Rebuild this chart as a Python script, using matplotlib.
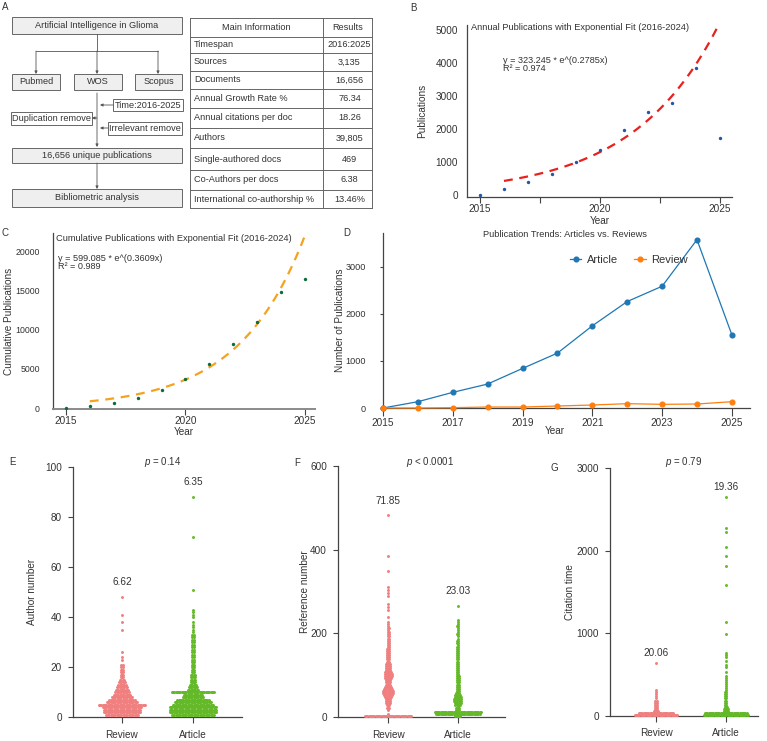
import numpy as np
import matplotlib
matplotlib.use('Agg')
import matplotlib.pyplot as plt
from matplotlib.patches import Rectangle
from matplotlib.lines import Line2D

plt.rcParams['font.family'] = ['Liberation Sans', 'DejaVu Sans']
plt.rcParams['mathtext.fontset'] = 'custom'
plt.rcParams['mathtext.it'] = 'Liberation Sans:italic'
plt.rcParams['mathtext.rm'] = 'Liberation Sans'

W, H = 767, 741
TXT = '#333333'
AXC = '#444444'

# ---------------- data ----------------
# panel A
flow_title = 'Artificial Intelligence in Glioma'
flow_sources = ['Pubmed', 'WOS', 'Scopus']
flow_filters = ['Time:2016-2025', 'Duplication remove', 'Irrelevant remove']
flow_result = '16,656 unique publications'
flow_final = 'Bibliometric analysis'
info_header = ['Main Information', 'Results']
info_labels = ['Timespan', 'Sources', 'Documents', 'Annual Growth Rate %',
               'Annual citations per doc', 'Authors', 'Single-authored docs',
               'Co-Authors per docs', 'International co-authorship %']
info_values = ['2016:2025', '3,135', '16,656', '76.34', '18.26', '39,805',
               '469', '6.38', '13.46%']

# panels B-D
years = [2015, 2016, 2017, 2018, 2019, 2020, 2021, 2022, 2023, 2024, 2025]
annual_pubs = [0, 182, 404, 646, 1000, 1364, 1980, 2525, 2800, 3860, 1737]
annual_fit = (323.245, 0.2785, 0.974)
cum_pubs = [0, 213, 680, 1280, 2300, 3700, 5660, 8170, 10980, 14850, 16550]
cum_fit = (599.085, 0.3609, 0.989)
article_counts = [0, 134, 333, 510, 842, 1168, 1748, 2265, 2590, 3581, 1557]
review_counts = [0, 0, 7, 21, 21, 42, 64, 92, 78, 85, 134]

# panel E: dots drawn per author number
author_review_vals = [1, 2, 3, 4, 5, 6, 7, 8, 9, 10, 11, 12, 13, 14, 15, 16, 17,
                      18, 19, 20, 21, 23, 24, 26, 35, 38, 41, 48]
author_review_dots = [28, 31, 31, 33, 39, 26, 22, 18, 15, 12, 11, 9, 7, 6, 4, 3, 3,
                      3, 3, 2, 2, 1, 1, 1, 1, 1, 1, 1]
author_article_vals = [1, 2, 3, 4, 5, 6, 7, 8, 9, 10, 11, 12, 13, 14, 15, 16, 17,
                       18, 19, 20, 21, 22, 23, 24, 25, 26, 27, 28, 29, 30, 31, 32,
                       33, 34, 35, 36, 37, 38, 40, 41, 42, 43, 51, 72, 88]
author_article_dots = [36, 39, 39, 39, 34, 31, 27, 18, 16, 36, 9, 8, 6, 5, 4, 4, 4,
                       3, 3, 3, 3, 3, 2, 2, 2, 2, 2, 2, 2, 2, 2, 2,
                       2, 1, 1, 1, 1, 1, 1, 1, 1, 1, 1, 1, 1]

# panel F: dots per 5-unit bin of reference number, plus single outliers
REF_BIN = 5
ref_review_bins = [40, 1, 0, 1, 3, 3, 4, 5, 5, 6, 8, 10, 10, 8, 6, 5, 5, 5, 6, 7,
                   7, 6, 5, 4, 4, 4, 3, 3, 3, 3, 3, 3, 3, 2, 2, 2, 2, 2, 2, 2,
                   2, 1, 2, 1, 1, 1]
ref_review_out = [240, 255, 262, 270, 290, 297, 303, 310, 348, 385, 482]
ref_article_bins = [5, 38, 40, 4, 4, 5, 6, 7, 7, 6, 5, 4, 3, 3, 3, 3, 3, 3, 3, 3,
                    2, 2, 2, 2, 2, 2, 2, 2, 2, 2, 2, 2, 2, 2, 1, 2, 2, 1, 1, 2,
                    1, 1, 1, 2, 1, 1, 1]
ref_article_out = [265]

# panel G: dots per 25-unit bin of citations, plus single outliers
CIT_BIN = 25
cit_review_bins = [37, 30, 4, 3, 3, 2, 2, 2, 1, 1, 1, 1, 1]
cit_review_out = [640]
cit_article_bins = [38, 36, 5, 4, 3, 2, 2, 2, 2, 2, 2, 2, 1, 1, 1, 1, 1, 1, 1, 1,
                    0, 1, 0, 1, 1, 0, 1, 0, 1, 1, 1]
cit_article_out = [990, 1140, 1590, 1820, 1940, 2040, 2230, 2280, 2650]

groups = ['Review', 'Article']
author_means = ['6.62', '6.35']
ref_means = ['71.85', '23.03']
cit_means = ['20.06', '19.36']

REVIEW_C = '#F08080'
ARTICLE_C = '#64B928'
DOT_DX = 0.017

fig = plt.figure(figsize=(W / 100, H / 100), dpi=100)


def px_axes(x0, y0, x1, y1):
    return fig.add_axes([x0 / W, 1 - y1 / H, (x1 - x0) / W, (y1 - y0) / H])


def style_axes(ax):
    for s in ['top', 'right']:
        ax.spines[s].set_visible(False)
    for s in ['left', 'bottom']:
        ax.spines[s].set_color(AXC)
        ax.spines[s].set_linewidth(0.9)
    ax.tick_params(colors=AXC, labelcolor=TXT, labelsize=7.2, width=0.8)


# ---------------- panel A ----------------
ax0 = fig.add_axes([0, 0, 1, 1])
ax0.set_xlim(0, W)
ax0.set_ylim(H, 0)
ax0.axis('off')


def box(x0, y0, x1, y1, text, fill='#efefef'):
    ax0.add_patch(Rectangle((x0, y0), x1 - x0, y1 - y0, facecolor=fill,
                            edgecolor='#666666', lw=0.7))
    ax0.text((x0 + x1) / 2, (y0 + y1) / 2, text, ha='center', va='center',
             fontsize=6.6, color=TXT)


def arrow(x0, y0, x1, y1):
    ax0.annotate('', xy=(x1, y1), xytext=(x0, y0),
                 arrowprops=dict(arrowstyle='-|>', lw=0.6, color='#555555',
                                 mutation_scale=4, shrinkA=0, shrinkB=0))


box(12, 17, 182, 34, flow_title)
box(12, 74, 60, 90, flow_sources[0])
box(74, 74, 122, 90, flow_sources[1])
box(135, 74, 182, 90, flow_sources[2])
box(113, 99, 183, 111, flow_filters[0], fill='white')
box(11, 112, 92, 125, flow_filters[1], fill='white')
box(108, 122, 182, 135, flow_filters[2], fill='white')
box(12, 148, 182, 163, flow_result)
box(12, 189, 182, 207, flow_final)

ax0.plot([97, 97], [34, 51], color='#555555', lw=0.6)
ax0.plot([36, 158], [51, 51], color='#555555', lw=0.6)
arrow(97, 51, 97, 74)
arrow(36, 51, 36, 74)
arrow(158, 51, 158, 74)
arrow(97, 93, 97, 147)
arrow(113, 105, 100, 105)
arrow(97, 118, 92, 118)
arrow(108, 128, 100, 128)
arrow(97, 163, 97, 189)

# table
row_y = [18.3, 36.7, 52.7, 71, 89, 108, 128, 148, 170, 190, 208.3]
tx0, tx1, tx2 = 190, 323, 372
for y in row_y:
    ax0.plot([tx0, tx2], [y, y], color='#666666', lw=0.7)
for x in [tx0, tx1, tx2]:
    ax0.plot([x, x], [row_y[0], row_y[-1]], color='#666666', lw=0.7)
ax0.text((tx0 + tx1) / 2, (row_y[0] + row_y[1]) / 2, info_header[0], ha='center',
         va='center', fontsize=6.6, color=TXT)
ax0.text((tx1 + tx2) / 2, (row_y[0] + row_y[1]) / 2, info_header[1], ha='center',
         va='center', fontsize=6.6, color=TXT)
for i, (lab, val) in enumerate(zip(info_labels, info_values)):
    yc = (row_y[i + 1] + row_y[i + 2]) / 2
    ax0.text(tx0 + 4, yc, lab, ha='left', va='center', fontsize=6.6, color=TXT)
    ax0.text((tx1 + tx2) / 2 + 2, yc, val, ha='center', va='center', fontsize=6.6,
             color=TXT)

# panel letters
for lab, x, y in [('A', 5, 7), ('B', 413, 8), ('C', 5, 233), ('D', 347, 233),
                  ('E', 12, 462), ('F', 297, 463), ('G', 554, 468)]:
    ax0.text(x, y, lab, ha='center', va='center', fontsize=7, color=TXT)

# ---------------- panel B ----------------
axb = px_axes(467, 25, 732, 197)
style_axes(axb)
axb.scatter(years, annual_pubs, s=6, color='#2456a6', zorder=3, linewidths=0)
a, b, r2 = annual_fit
xf = np.linspace(2016, 2025, 80)
axb.plot(xf, a * np.exp(b * (xf - 2015)), color='#e8201e', lw=1.6, dashes=(4, 3))
axb.set_xlim(2014.46, 2025.5)
axb.set_ylim(-60, 5150)
axb.set_xticks([2015, 2017.5, 2020, 2022.5, 2025])
axb.set_xticklabels(['2015', '', '2020', '', '2025'])
axb.set_yticks([0, 1000, 2000, 3000, 4000, 5000])
axb.tick_params(axis='x', length=4, pad=1)
axb.tick_params(axis='y', length=0, pad=6.5)
axb.set_xlabel('Year', fontsize=7.2, color=TXT)
axb.set_ylabel('Publications', fontsize=7.2, color=TXT)
axb.xaxis.set_label_coords(0.5, -0.108)
axb.yaxis.set_label_coords(-0.151, 0.5)
axb.text(0.015, 0.988, 'Annual Publications with Exponential Fit (2016-2024)',
         transform=axb.transAxes, fontsize=6.7, color=TXT, va='center')
axb.text(0.136, 0.82, f'y = {a} * e^({b}x)\nR² = {r2}', transform=axb.transAxes,
         fontsize=6.6, color=TXT, va='top', linespacing=0.85)

# ---------------- panel C ----------------
axc = px_axes(53, 233, 315, 409)
style_axes(axc)
axc.scatter(years, cum_pubs, s=6, color='#0b6b3a', zorder=3, linewidths=0)
a, b, r2 = cum_fit
axc.plot(xf, a * np.exp(b * (xf - 2015)), color='#f5a21e', lw=1.6, dashes=(4, 3))
axc.set_xlim(2014.46, 2025.42)
axc.set_ylim(-128, 22435)
axc.set_xticks([2015, 2020, 2025])
axc.set_yticks([0, 5000, 10000, 15000, 20000])
axc.spines['bottom'].set_color('#8a8a8a')
axc.spines['bottom'].set_linewidth(1.4)
axc.tick_params(axis='x', length=4, pad=1)
axc.tick_params(axis='y', length=0, pad=9.5, labelsize=6.3)
axc.set_xlabel('Year', fontsize=7.2, color=TXT)
axc.set_ylabel('Cumulative Publications', fontsize=7.2, color=TXT)
axc.xaxis.set_label_coords(0.5, -0.1)
axc.yaxis.set_label_coords(-0.15, 0.5)
axc.text(0.011, 0.966, 'Cumulative Publications with Exponential Fit (2016-2024)',
         transform=axc.transAxes, fontsize=6.7, color=TXT, va='center')
axc.text(0.02, 0.88, f'y = {a} * e^({b}x)\nR² = {r2}', transform=axc.transAxes,
         fontsize=6.6, color=TXT, va='top', linespacing=0.85)

# ---------------- panel D ----------------
axd = px_axes(383, 233, 750, 408)
style_axes(axd)
axd.plot(years, article_counts, color='#1f77b4', lw=0.9, marker='o', ms=3.4,
         clip_on=False, zorder=3)
axd.plot(years, review_counts, color='#ff7f0e', lw=0.9, marker='o', ms=3.4,
         clip_on=False, zorder=3)
axd.set_xlim(2015, 2025.52)
axd.set_ylim(0, 3723)
axd.set_xticks([2015, 2017, 2019, 2021, 2023, 2025])
axd.set_yticks([0, 1000, 2000, 3000])
axd.tick_params(axis='x', length=6, pad=1.5)
axd.tick_params(axis='y', length=2.5, pad=10, labelsize=6.6)
axd.set_xlabel('Year', fontsize=7.2, color=TXT)
axd.set_ylabel('Number of Publications', fontsize=7.2, color=TXT)
axd.xaxis.set_label_coords(0.469, -0.103)
axd.yaxis.set_label_coords(-0.103, 0.5)
axd.text(0.496, 0.994, 'Publication Trends: Articles vs. Reviews',
         transform=axd.transAxes, fontsize=6.7, color=TXT, ha='center', va='center')
handles = [Line2D([], [], color='#1f77b4', lw=0.9, marker='o', ms=3.4),
           Line2D([], [], color='#ff7f0e', lw=0.9, marker='o', ms=3.4)]
axd.legend(handles, ['Article', 'Review'], loc='center', ncol=2, frameon=False,
           bbox_to_anchor=(0.67, 0.845), fontsize=8, handlelength=1.0,
           handletextpad=0.5, columnspacing=1.5, labelcolor=TXT)


# ---------------- panels E-G ----------------
def swarm(ax, g, vals, dots, color):
    xs, ys = [], []
    for v, n in zip(vals, dots):
        xs.extend(g + (np.arange(n) - (n - 1) / 2) * DOT_DX)
        ys.extend([v] * n)
    ax.scatter(xs, ys, s=4.5, color=color, linewidths=0, clip_on=False, zorder=3)
    return max(ys)


def bins_to_rows(bins, width, outliers):
    vals = [width * (i + 0.5) for i in range(len(bins))] + list(outliers)
    dots = list(bins) + [1] * len(outliers)
    return vals, dots


def dot_panel(rect, review, article, xlim, ylim, yticks, ylabel, ylab_x,
              means, ptext, px, py, off):
    ax = px_axes(*rect)
    style_axes(ax)
    tops = [swarm(ax, 0, review[0], review[1], REVIEW_C),
            swarm(ax, 1, article[0], article[1], ARTICLE_C)]
    ax.set_xlim(*xlim)
    ax.set_ylim(*ylim)
    ax.set_xticks([0, 1])
    ax.set_xticklabels(groups)
    ax.set_yticks(yticks)
    ax.tick_params(axis='x', length=4, pad=5)
    ax.tick_params(axis='y', length=3.5, pad=4.5)
    ax.set_ylabel(ylabel, fontsize=7.2, color=TXT)
    ax.yaxis.set_label_coords(ylab_x, 0.5)
    for g, (m, t) in enumerate(zip(means, tops)):
        ax.annotate(m, (g, t), xytext=(0, off), textcoords='offset points',
                    ha='center', va='bottom', fontsize=7.2, color=TXT)
    ax.text(px, py, ptext, ha='center', va='center', fontsize=7, color=TXT)
    return ax


dot_panel((73, 467, 242, 717),
          (author_review_vals, author_review_dots),
          (author_article_vals, author_article_dots),
          (-0.69, 1.69), (0, 100), [0, 20, 40, 60, 80, 100], 'Author number',
          -0.213, author_means, '$p$ = 0.14', 0.58, 102, 7)

dot_panel((338, 466, 505, 717),
          bins_to_rows(ref_review_bins, REF_BIN, ref_review_out),
          bins_to_rows(ref_article_bins, REF_BIN, ref_article_out),
          (-0.72, 1.68), (0, 600), [0, 200, 400, 600], 'Reference number',
          -0.168, ref_means, '$p$ < 0.0001', 0.6, 610, 7)

dot_panel((610, 468, 758, 716),
          bins_to_rows(cit_review_bins, CIT_BIN, cit_review_out),
          bins_to_rows(cit_article_bins, CIT_BIN, cit_article_out),
          (-0.66, 1.46), (0, 3000), [0, 1000, 2000, 3000], 'Citation time',
          -0.236, cit_means, '$p$ = 0.79', 0.39, 3072, 3.5)

fig.savefig('out.png', dpi=100)
